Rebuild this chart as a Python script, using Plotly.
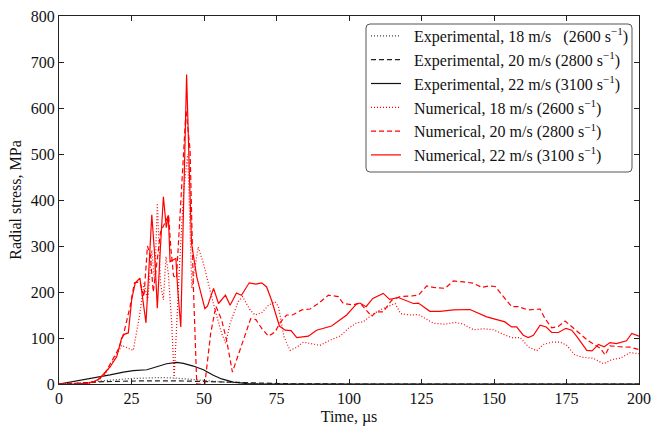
import plotly.graph_objects as go

# ---------------- data ----------------
# Experimental (black)
exp18_t = [0, 5, 10, 15, 20, 25, 30, 35, 40, 45, 50, 55, 60, 65, 70, 80, 100, 150, 200]
exp18_v = [0, 1, 3, 7, 10, 12, 13, 14, 13, 10, 7, 5, 3, 1.5, 0.5, 0, 0, 0, 0]

exp20_t = [0, 5, 10, 15, 20, 30, 40, 45, 50, 55, 60, 65, 70, 75, 80, 100, 150, 200]
exp20_v = [0, 1, 3, 5, 6, 7, 7, 6.5, 6, 5, 4, 3, 2, 1, 0.5, 0, 0, 0]

exp22_t = [0, 3.5, 7.2, 10.5, 14.1, 17.6, 22.2, 25.6, 30.3, 33.7, 37.1, 40.6, 42.9, 46.3,
           49.8, 53.2, 56.1, 60.1, 64.7, 70, 80, 100, 150, 200]
exp22_v = [0, 4, 8, 11, 15, 20, 26, 29, 31, 37, 44, 47, 45, 39,
           31, 19, 11, 4, 1, 0, 0, 0, 0, 0]

# Numerical (red)
num18_t = [0, 5, 10, 12, 14, 16, 16.8, 19.7, 21.6, 25.6, 27.7, 29.3, 30.6, 32, 33, 33.9, 35, 36,
           36.9, 37.7, 38.9, 39.7, 41.5, 43, 44.4, 45.8, 48, 49.8, 51.5, 53.8, 56.1, 57.5, 59,
           60.1, 61.8, 63.3, 65.9, 67.6, 69.9, 72.2, 74.5, 75.7, 77.6, 79.7, 82, 84.3, 87.2, 90,
           93.4, 96.9, 99.8, 102.6, 104.9, 107.8, 110.7, 113.6, 115.9, 117.8, 121, 123.9, 126.8,
           129.1, 133.1, 136.6, 139.5, 142.9, 146.3, 149.8, 153.2, 156.1, 159, 161.8, 164.7, 167,
           170.2, 172.8, 175.1, 177.9, 180.8, 184.3, 187.7, 190.6, 193.5, 196.9, 200]
num18_v = [0, 0, 1, 4, 10, 22, 30, 60, 84, 73, 146, 219, 182, 291, 219, 393, 219, 183,
           277, 240, 128, 12, 250, 420, 500, 208, 298, 262, 219, 161, 110, 88, 132,
           150, 179, 190, 161, 150, 155, 171, 179, 168, 102, 73, 80, 91, 88, 84,
           95, 104, 121, 133, 135, 150, 161, 168, 175, 153, 150, 151, 140,
           132, 130, 134, 130, 118, 120, 118, 108, 101, 101, 81, 72, 86,
           91, 91, 84, 63, 58, 56, 44, 53, 56, 68, 66]

num20_t = [0, 5, 10, 12, 14, 16, 17.6, 20.6, 22.4, 24.5, 26, 27.9, 29.3, 30.5, 31.5, 32.5, 33.5,
           35, 36.5, 37.8, 38.5, 39.5, 40.5, 41.5, 42.9, 43.8, 45.2, 46.3, 47.5, 50.3, 52.3, 54.1,
           56.1, 57.8, 59.8, 61.8, 64.1, 66.1, 67.9, 69.9, 72.2, 74.5, 76.2, 78.5, 80.5, 83.7,
           86.6, 89.4, 92.9, 96.3, 98, 101.5, 103.8, 107.8, 109.5, 111.8, 114.7, 117.6, 121,
           123.9, 126.8, 129.1, 133.1, 136, 139.5, 142.9, 145.8, 148.1, 150.4, 153.2, 156.1,
           158.4, 161.8, 165.9, 167.6, 169.9, 172.2, 174.5, 176.8, 179.1, 182.5, 184.8, 186.8,
           188.3, 190, 193.5, 196.9, 200]
num20_v = [0, 0, 2, 5, 12, 25, 43, 77, 112, 168, 220, 222, 190, 300, 280, 200, 250,
           330, 350, 367, 300, 235, 230, 350, 509, 595, 509, 219, 0, 0, 110, 169,
           139, 95, 26, 63, 110, 142, 140, 121, 104, 113, 133, 150, 150, 161,
           163, 175, 193, 190, 175, 172, 176, 147, 157, 157, 182, 190, 191,
           193, 213, 210, 208, 224, 222, 219, 210, 213, 212, 190, 168,
           168, 161, 163, 142, 122, 125, 137, 125, 113, 94, 85, 77,
           63, 83, 81, 80, 75]

num22_t = [0, 5, 10, 12, 14, 16, 17.6, 19.9, 21.6, 22.5, 23.9, 25.1, 26.3, 27.9, 29.1, 30, 31,
           32, 33, 33.9, 35, 36, 37, 37.7, 38.3, 39.3, 40.3, 41, 42, 43, 44, 45, 45.7, 47.5,
           50.3, 51.2, 53.3, 55, 57.4, 59, 61.2, 62.9, 65.6, 67.9, 69.9, 71.6, 73.3, 76, 78, 80,
           82, 86, 88.8, 94, 99.2, 102.6, 103.8, 105.9, 108.2, 111.8, 114, 117, 122.2, 123.9,
           127.9, 131.4, 136, 141.7, 147.5, 153.8, 156.1, 157.8, 160.1, 161.8, 163.6, 165.9,
           168, 169.9, 172.2, 174.8, 176.8, 178.6, 182, 183.8, 186, 188, 190, 192.2, 195.7,
           197.5, 200]
num22_v = [0, 0, 2, 5, 12, 27, 37, 59, 100, 108, 111, 185, 220, 230, 180, 133, 250,
           368, 280, 165, 300, 407, 340, 367, 266, 270, 273, 200, 124, 400, 673, 450, 306, 233,
           164, 169, 208, 175, 193, 171, 198, 193, 220, 217, 220, 211, 182, 126, 117, 116,
           101, 104, 117, 126, 150, 174, 176, 168, 186, 197, 184, 188, 175, 176,
           158, 158, 161, 162, 146, 135, 124, 124, 106, 101, 106, 128,
           124, 112, 112, 121, 117, 103, 73, 72, 86, 81, 90, 88, 94,
           110, 104]

PAD = "\u00a0\u00a0"
names = [
    PAD + "Experimental, 18 m/s \u00a0 (2600 s<sup>\u22121</sup>)",
    PAD + "Experimental, 20 m/s (2800 s<sup>\u22121</sup>)",
    PAD + "Experimental, 22 m/s (3100 s<sup>\u22121</sup>)",
    PAD + "Numerical, 18 m/s (2600 s<sup>\u22121</sup>)",
    PAD + "Numerical, 20 m/s (2800 s<sup>\u22121</sup>)",
    PAD + "Numerical, 22 m/s (3100 s<sup>\u22121</sup>)",
]

x_ticks = [0, 25, 50, 75, 100, 125, 150, 175, 200]
y_ticks = [0, 100, 200, 300, 400, 500, 600, 700, 800]

# ---------------- figure ----------------
DOT = "1px,2px"
DASH = "5px,3px"
series = [
    (exp18_t, exp18_v, "#444444", DOT),
    (exp20_t, exp20_v, "#222222", DASH),
    (exp22_t, exp22_v, "#111111", "solid"),
    (num18_t, num18_v, "#ff0000", DOT),
    (num20_t, num20_v, "#ff0000", DASH),
    (num22_t, num22_v, "#ff0000", "solid"),
]

fig = go.Figure()
for (t, v, c, d), n in zip(series, names):
    fig.add_trace(go.Scatter(x=t, y=v, mode="lines", name=n,
                             line=dict(color=c, width=1.2, dash=d)))

# plot-area geometry (pixels) used for the rounded legend frame
W, H = 651, 431
ML, MR, MT, MB = 59, 12, 16, 47
PW, PH = W - ML - MR, H - MT - MB


def px_x(p):
    return (p - ML) / PW


def px_y(p):
    return (H - MB - p) / PH


# rounded legend frame
x0, x1, y0, y1, r = 366, 632, 24, 172, 4
path = (f"M {px_x(x0 + r)},{px_y(y0)} L {px_x(x1 - r)},{px_y(y0)} "
        f"Q {px_x(x1)},{px_y(y0)} {px_x(x1)},{px_y(y0 + r)} "
        f"L {px_x(x1)},{px_y(y1 - r)} Q {px_x(x1)},{px_y(y1)} {px_x(x1 - r)},{px_y(y1)} "
        f"L {px_x(x0 + r)},{px_y(y1)} Q {px_x(x0)},{px_y(y1)} {px_x(x0)},{px_y(y1 - r)} "
        f"L {px_x(x0)},{px_y(y0 + r)} Q {px_x(x0)},{px_y(y0)} {px_x(x0 + r)},{px_y(y0)} Z")
fig.add_shape(type="path", path=path, xref="paper", yref="paper", layer="above",
              fillcolor="white", line=dict(color="#555", width=1))

FONT = "Liberation Serif, Times New Roman, serif"
axis_common = dict(
    showline=True, linecolor="#222", linewidth=1, mirror="allticks",
    ticks="inside", ticklen=5, tickcolor="#222", tickwidth=1,
    showgrid=False, zeroline=False, automargin=False,
    tickfont=dict(family=FONT, size=16, color="#111"),
)
fig.update_layout(
    width=W, height=H,
    margin=dict(l=ML, r=MR, t=MT, b=MB),
    paper_bgcolor="white", plot_bgcolor="white",
    font=dict(family=FONT, size=16, color="#111"),
    xaxis=dict(range=[0, 200], tickvals=x_ticks,
               title=dict(text="Time, \u00b5s", standoff=4, font=dict(family=FONT, size=16)),
               **axis_common),
    yaxis=dict(range=[0, 800], tickvals=y_ticks,
               title=dict(text="Radial stress, MPa", standoff=5, font=dict(family=FONT, size=16)),
               **axis_common),
    legend=dict(x=px_x(366), y=px_y(19), xanchor="left", yanchor="top",
                bgcolor="rgba(0,0,0,0)", borderwidth=0,
                font=dict(family=FONT, size=16, color="#111"),
                tracegroupgap=0, itemwidth=30),
    showlegend=True,
)

fig.write_html("out.html")
